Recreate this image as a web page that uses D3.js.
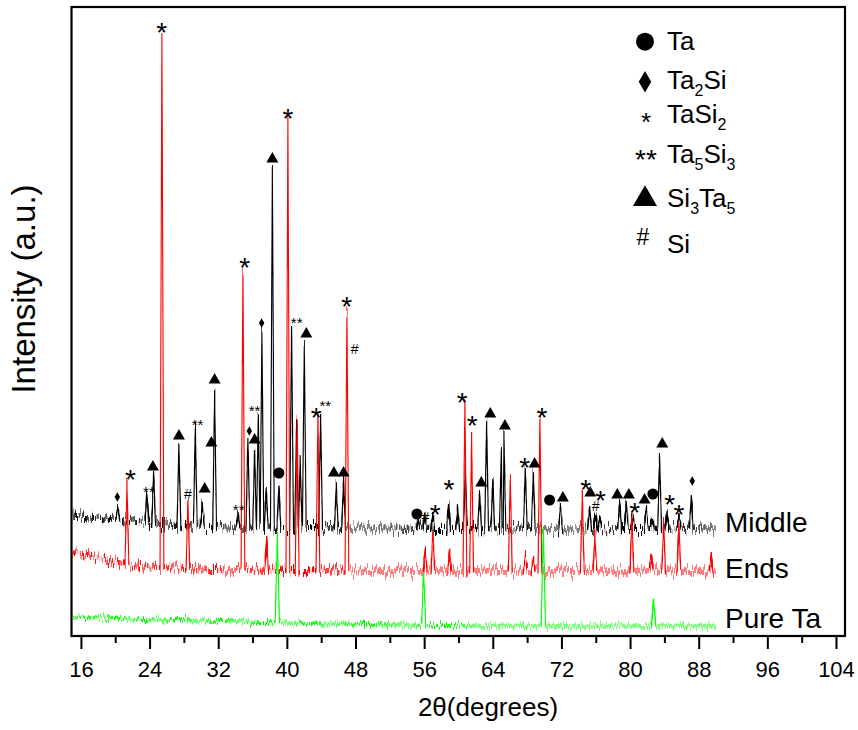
<!DOCTYPE html>
<html lang="en">
<head>
<meta charset="utf-8">
<title>XRD patterns</title>
<script src="https://d3js.org/d3.v7.min.js"></script>
<style>
  body { margin: 0; background: #fff; }
  svg { display: block; font-family: "Liberation Sans", Arial, sans-serif; }
  .axis path { display: none; }
  .axis line { stroke: #000; stroke-width: 2px; }
  .axis text { font-size: 22px; fill: #000; }
</style>
</head>
<body>
<div id="chart"></div>
<script>
// x ticks (2theta, degrees)
var xTicks = [16, 24, 32, 40, 48, 56, 64, 72, 80, 88, 96, 104];
var xMinor = [20, 28, 36, 44, 52, 60, 68, 76, 84, 92, 100];

// background level of each pattern [2theta, intensity a.u.]
var middleBase = [[15, 121], [18, 118], [22, 114], [26, 111], [33, 109], [50, 108], [70.5, 107], [90, 108]];
var endsBase = [[15, 84], [17, 80], [20, 74], [24, 69], [33, 66], [50, 65], [90, 65]];
var pureBase = [[15, 19], [25, 16], [45, 12], [62, 10], [90, 10]];

// peak apex [2theta, intensity a.u.]
var middlePeaks = [[20.31, 129], [23.69, 143], [24.47, 163], [27.42, 189], [29.33, 209], [30.15, 133],
  [31.58, 244], [34.30, 123], [35.46, 199], [36.24, 186], [36.67, 223], [37.09, 304], [37.6, 146],
  [38.31, 467], [39.07, 149], [40.55, 311], [41.14, 216], [41.55, 176], [42.03, 290], [43.93, 221],
  [45.76, 151], [46.61, 158], [55.3, 116], [56.05, 121], [57.0, 118], [58.85, 134], [59.9, 126],
  [60.8, 166], [62.47, 144], [63.28, 213], [64.0, 156], [65.0, 189], [65.3, 201], [67.79, 168],
  [68.72, 164], [71.90, 129], [75.28, 128], [75.98, 121], [76.5, 120], [78.78, 133], [79.56, 133],
  [80.3, 120], [81.89, 128], [82.6, 121], [83.44, 181], [84.3, 124], [85.7, 120], [87.13, 141]];
var endsPeaks = [[21.36, 151], [25.44, 600], [28.47, 134], [34.88, 364], [37.64, 99], [40.12, 517],
  [41.2, 214], [43.62, 221], [47.0, 323], [56.14, 86], [57.02, 106], [58.97, 84], [60.75, 233],
  [61.53, 199], [66.04, 158], [67.8, 80], [68.7, 78], [69.49, 216], [74.43, 141], [75.90, 101],
  [80.21, 120], [82.47, 81], [83.91, 113], [85.69, 111], [89.47, 79]];
var purePeaks = [[38.89, 101], [55.94, 63], [69.89, 109], [82.74, 37]];

// phase marks [2theta, intensity a.u.]
var taMarks = [[39.07, 163], [55.16, 122], [70.62, 136], [82.66, 142]];
var ta2siMarks = [[20.24, 139], [35.63, 205], [37.06, 313], [87.25, 155]];
var tasi2Marks = [[25.40, 611], [40.12, 525], [35.08, 376], [46.96, 337], [43.43, 226], [21.76, 164],
  [57.30, 129], [58.89, 154], [60.45, 241], [61.61, 218], [67.71, 176], [69.72, 226], [74.82, 154],
  [76.56, 143], [80.53, 131], [84.61, 139], [85.69, 129]];
var ta5si3Marks = [[23.92, 148], [29.60, 215], [34.38, 130], [36.24, 229], [41.14, 317], [44.48, 234]];
var si3ta5Marks = [[24.39, 169], [27.42, 200], [30.42, 147], [31.58, 256], [31.20, 193], [36.24, 196],
  [38.31, 477], [42.27, 302], [45.48, 163], [46.61, 163], [62.66, 153], [63.71, 222], [65.41, 210],
  [68.87, 172], [72.17, 138], [75.36, 143], [78.51, 141], [79.86, 141], [81.69, 136], [83.75, 192]];
var siMarks = [[28.47, 142], [47.90, 287], [56.14, 119], [75.98, 130]];

var seriesNames = ["Middle", "Ends", "Pure Ta"];
var legendNames = [["Ta"], ["Ta", "2", "Si"], ["TaSi", "2"], ["Ta", "5", "Si", "3"], ["Si", "3", "Ta", "5"], ["Si"]];

var width = 858, height = 730;
var svg = d3.select("#chart").append("svg")
    .attr("width", width)
    .attr("height", height);

var x = d3.scaleLinear().domain([14.9, 105.05]).range([71.5, 845]);
var y = d3.scaleLinear().domain([0, 629]).range([636, 7]);

// jitter filters give the counting noise look
var defs = svg.append("defs");
function jitter(id, amount, spread, seed) {
    var f = defs.append("filter").attr("id", id)
        .attr("filterUnits", "userSpaceOnUse")
        .attr("x", 60).attr("y", 0).attr("width", 800).attr("height", 650)
        .attr("color-interpolation-filters", "sRGB");
    f.append("feTurbulence").attr("type", "fractalNoise")
        .attr("baseFrequency", "1.6 0.08").attr("numOctaves", 2).attr("seed", seed).attr("result", "n");
    f.append("feColorMatrix").attr("in", "n").attr("type", "matrix")
        .attr("values", "0 0 0 0 0.5  0 1.3 0 0 -0.15  0 0 0 0 0.5  0 0 0 0 1").attr("result", "m");
    f.append("feDisplacementMap").attr("in", "SourceGraphic").attr("in2", "m")
        .attr("scale", amount).attr("xChannelSelector", "R").attr("yChannelSelector", "G")
        .attr("result", "d");
    f.append("feMorphology").attr("in", "d").attr("operator", "dilate").attr("radius", "0 " + spread);
}
jitter("noiseA", 17, 2, 2);
jitter("noiseB", 17, 2, 7);
jitter("noiseC", 10, 1, 11);

function tracePoints(base, peaks, hw) {
    var baseAt = d3.scaleLinear().domain(base.map(function(d) { return d[0]; }))
        .range(base.map(function(d) { return d[1]; }));
    var pts = base.slice();
    peaks.forEach(function(p) {
        var b = baseAt(p[0]);
        pts.push([p[0] - hw, b], [p[0], p[1]], [p[0] + hw, b]);
    });
    pts.sort(function(a, b) { return a[0] - b[0]; });
    return pts;
}

var line = d3.line()
    .x(function(d) { return x(d[0]); })
    .y(function(d) { return y(d[1]); });

var traces = [
    {pts: tracePoints(middleBase, middlePeaks, 0.22), color: "#000000", filter: "noiseA"},
    {pts: tracePoints(endsBase, endsPeaks, 0.22), color: "#ff0000", filter: "noiseB"},
    {pts: tracePoints(pureBase, purePeaks, 0.25), color: "#00ff00", filter: "noiseC"}
];

svg.append("g").selectAll("path")
    .data(traces)
    .enter()
    .append("path")
    .attr("d", function(d) { return line(d.pts); })
    .attr("fill", "none")
    .attr("stroke", function(d) { return d.color; })
    .attr("stroke-width", 1.1)
    .attr("filter", function(d) { return "url(#" + d.filter + ")"; });

// phase markers
var marks = svg.append("g");
function symbolMarks(data, type, size) {
    marks.selectAll(null).data(data).enter().append("path")
        .attr("transform", function(d) { return "translate(" + x(d[0]) + "," + y(d[1]) + ")"; })
        .attr("d", d3.symbol().type(type).size(size))
        .attr("fill", "#000");
}
function textMarks(data, str, fs, rise) {
    marks.selectAll(null).data(data).enter().append("text")
        .attr("x", function(d) { return x(d[0]); })
        .attr("y", function(d) { return y(d[1]) + rise * fs; })
        .attr("text-anchor", "middle")
        .attr("font-size", fs)
        .text(str);
}
symbolMarks(taMarks, d3.symbolCircle, 95);
symbolMarks(ta2siMarks, d3.symbolDiamond, 26);
symbolMarks(si3ta5Marks, d3.symbolTriangle, 62);
textMarks(tasi2Marks, "*", 28, 0.62);
textMarks(ta5si3Marks, "**", 15, 0.6);
textMarks(siMarks, "#", 14, 0.36);

// series labels
var labelY = [532, 578, 628];
svg.append("g").selectAll("text")
    .data(seriesNames)
    .enter()
    .append("text")
    .attr("x", 725)
    .attr("y", function(d, i) { return labelY[i]; })
    .attr("font-size", 28)
    .text(function(d) { return d; });

// legend
var legendY = [50, 89, 123, 163, 207, 253];
var legend = svg.append("g");
legendNames.forEach(function(parts, i) {
    var t = legend.append("text")
        .attr("x", 667)
        .attr("y", legendY[i])
        .attr("font-size", 26);
    parts.forEach(function(p, j) {
        var sub = j % 2 === 1;
        t.append("tspan")
            .attr("font-size", sub ? 16 : 26)
            .attr("dy", sub ? 7 : (j > 0 ? -7 : 0))
            .text(p);
    });
});
var lg = [
    {y: 41.7, type: d3.symbolCircle, size: 254},
    {y: 81.7, type: d3.symbolDiamond, size: 135},
    {y: 199, type: d3.symbolTriangle, size: 250}
];
lg.forEach(function(d) {
    legend.append("path")
        .attr("transform", "translate(645," + d.y + ")")
        .attr("d", d3.symbol().type(d.type).size(d.size))
        .attr("fill", "#000");
});
legend.append("text").attr("x", 646).attr("y", 115 + 0.62 * 26).attr("text-anchor", "middle")
    .attr("font-size", 26).text("*");
legend.append("text").attr("x", 646).attr("y", 152 + 0.62 * 28).attr("text-anchor", "middle")
    .attr("font-size", 28).text("**");
legend.append("text").attr("x", 643).attr("y", 237 + 0.36 * 23).attr("text-anchor", "middle")
    .attr("font-size", 23).text("#");

// axes
svg.append("g")
    .attr("class", "axis")
    .attr("transform", "translate(0,636)")
    .call(d3.axisBottom(x).tickValues(xTicks).tickSize(13).tickPadding(12).tickFormat(d3.format("d")));
svg.append("g")
    .attr("class", "axis")
    .attr("transform", "translate(0,636)")
    .call(d3.axisBottom(x).tickValues(xMinor).tickSize(7).tickFormat(""));

// frame
svg.append("rect")
    .attr("x", x.range()[0])
    .attr("y", y.range()[1])
    .attr("width", x.range()[1] - x.range()[0])
    .attr("height", y.range()[0] - y.range()[1])
    .attr("fill", "none")
    .attr("stroke", "#000")
    .attr("stroke-width", 2.2);

svg.append("text")
    .attr("x", 488)
    .attr("y", 716)
    .attr("text-anchor", "middle")
    .attr("font-size", 26)
    .text("2\u03b8(degrees)");

svg.append("text")
    .attr("transform", "translate(35,289) rotate(-90)")
    .attr("text-anchor", "middle")
    .attr("font-size", 33)
    .text("Intensity (a.u.)");
</script>
</body>
</html>
